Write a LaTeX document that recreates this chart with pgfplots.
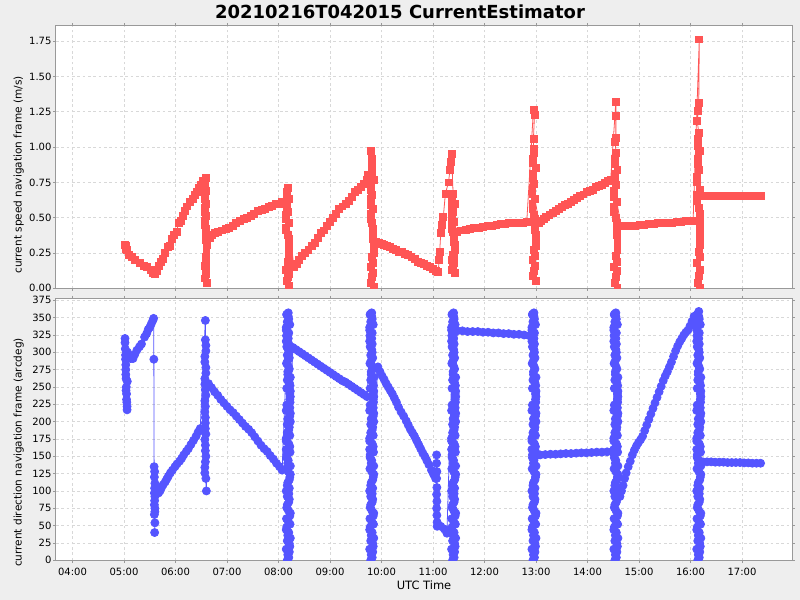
\documentclass[border=0pt]{standalone}
\usepackage{fontspec}
\setmainfont{DejaVu Sans}
\usepackage{pgfplots}
\pgfplotsset{compat=1.18}
\definecolor{bgc}{HTML}{EEEEEE}
\definecolor{sred}{HTML}{FF5555}
\definecolor{sblue}{HTML}{5555FF}
\definecolor{gridc}{HTML}{D8D8D8}
\definecolor{framec}{HTML}{999999}
\pgfplotsset{
  panel/.style={
    scale only axis, width=552pt,
    xmin=3.68, xmax=17.97,
    axis background/.style={fill=white},
    xmajorgrids, ymajorgrids,
    major grid style={gridc, dash pattern=on 2pt off 2pt, line width=0.5pt},
    axis line style={framec, line width=0.75pt},
    tick style={framec, line width=0.5pt},
    tick align=outside, major tick length=2pt,
    xtick={4,5,...,17},
    tick label style={font=\fontsize{7.5}{9}\selectfont},
    every axis x label/.style={at={(axis description cs:0.5,0)}, yshift=-18.5pt, anchor=center, font=\fontsize{8.6}{10}\selectfont},
    clip marker paths=true,
    /pgf/number format/assume math mode=true,
    yticklabel style={anchor=east, inner sep=0pt, xshift=-1.2pt},
    xticklabel style={anchor=north, inner sep=0pt, yshift=-3.5pt},
    scaled y ticks=false,
  },
  redser/.style={sred, line width=0.6pt, mark=square*, mark size=2.6pt, mark options={solid, fill=sred, draw=none}},
  blueser/.style={sblue, line width=0.6pt, mark=*, mark size=3pt, mark options={solid, fill=sblue, draw=none}},
}
\begin{document}
\begin{tikzpicture}
\fill[bgc] (0,0) rectangle (600pt,450pt);
\useasboundingbox (0,0) rectangle (600pt,450pt);
\begin{axis}[panel, at={(42pt,233.8pt)}, anchor=south west, height=196.7pt,
  ymin=0, ymax=1.858, ytick={0,0.25,0.5,0.75,1,1.25,1.5,1.75},
  yticklabel style={/pgf/number format/fixed, /pgf/number format/fixed zerofill, /pgf/number format/precision=2},
  every axis y label/.style={at={(axis description cs:0,0.432)}, xshift=-28pt, rotate=90, anchor=center, font=\fontsize{7.9}{10}\selectfont},
  xticklabels={}, ylabel={current speed navigation frame (m/s)}]
\addplot[redser] coordinates {
(5.02,0.31)(5.03,0.28)(5.04,0.30)(5.06,0.27)(5.10,0.235)(5.15,0.22)(5.22,0.20)(5.30,0.18)(5.38,0.16)(5.45,0.15)(5.52,0.13)(5.57,0.11)
(5.60,0.10)(5.64,0.12)(5.68,0.16)(5.72,0.19)(5.76,0.21)(5.80,0.25)(5.85,0.29)(5.89,0.30)(5.93,0.35)(5.97,0.38)(6.02,0.40)(6.06,0.46)(6.10,0.48)(6.15,0.51)(6.19,0.55)(6.23,0.58)(6.28,0.61)(6.33,0.63)(6.38,0.66)(6.42,0.68)(6.46,0.71)(6.50,0.73)(6.53,0.76)
(6.585,0.78)(6.600,0.28)(6.575,0.63)(6.590,0.13)(6.570,0.48)(6.595,0.37)(6.580,0.72)(6.605,0.04)(6.565,0.57)(6.585,0.22)(6.585,0.42)(6.600,0.69)(6.575,0.07)(6.590,0.34)(6.570,0.54)(6.595,0.19)(6.580,0.75)(6.605,0.31)(6.565,0.45)(6.585,0.10)(6.585,0.60)(6.600,0.25)(6.575,0.66)(6.590,0.40)(6.570,0.16)(6.595,0.51)
(6.67,0.36)(6.70,0.38)(6.76,0.39)(6.83,0.40)(6.90,0.41)(6.97,0.42)(7.04,0.43)(7.11,0.445)(7.18,0.46)(7.25,0.475)(7.32,0.49)(7.39,0.50)(7.46,0.515)(7.53,0.53)(7.60,0.545)(7.67,0.555)(7.74,0.565)(7.81,0.575)(7.88,0.585)(7.95,0.595)(8.01,0.60)(8.06,0.61)
(8.18,0.71)(8.21,0.24)(8.155,0.57)(8.195,0.10)(8.15,0.43)(8.20,0.32)(8.165,0.65)(8.21,0.02)(8.15,0.52)(8.18,0.19)(8.18,0.38)(8.21,0.63)(8.155,0.05)(8.195,0.30)(8.15,0.49)(8.20,0.16)(8.165,0.68)(8.21,0.27)(8.15,0.41)(8.18,0.08)(8.18,0.54)(8.21,0.21)(8.155,0.60)(8.195,0.35)(8.15,0.13)(8.20,0.46)
(8.30,0.15)(8.35,0.17)(8.40,0.20)(8.46,0.23)(8.52,0.25)(8.58,0.27)(8.64,0.30)(8.70,0.32)(8.76,0.36)(8.82,0.39)(8.88,0.41)(8.94,0.44)(9.00,0.47)(9.06,0.50)(9.12,0.53)(9.18,0.56)(9.24,0.58)(9.30,0.60)(9.36,0.62)(9.42,0.65)(9.48,0.68)(9.54,0.70)(9.60,0.72)(9.66,0.74)(9.71,0.77)(9.74,0.80)
(9.80,0.975)(9.81,0.92)
(9.82,0.87)(9.85,0.29)(9.795,0.70)(9.835,0.11)(9.79,0.53)(9.84,0.39)(9.805,0.80)(9.85,0.01)(9.79,0.63)(9.82,0.22)(9.82,0.46)(9.85,0.77)(9.795,0.04)(9.835,0.35)(9.79,0.59)(9.84,0.18)(9.805,0.84)(9.85,0.32)(9.79,0.49)(9.82,0.08)(9.82,0.66)(9.85,0.25)(9.795,0.73)(9.835,0.42)(9.79,0.15)(9.84,0.56)
(9.90,0.33)(9.95,0.32)(10.00,0.315)(10.05,0.31)(10.10,0.30)(10.16,0.29)(10.22,0.28)(10.28,0.27)(10.34,0.26)(10.40,0.255)(10.46,0.245)(10.52,0.235)(10.58,0.22)(10.64,0.205)(10.70,0.19)(10.76,0.18)(10.82,0.17)(10.88,0.16)(10.94,0.15)(11.00,0.135)(11.05,0.125)(11.10,0.115)
(11.12,0.20)(11.13,0.26)(11.15,0.39)(11.17,0.45)(11.20,0.505)(11.24,0.67)(11.30,0.75)(11.33,0.84)(11.35,0.895)(11.36,0.955)
(11.39,0.67)(11.42,0.29)(11.365,0.56)(11.405,0.18)(11.36,0.45)(11.41,0.36)(11.375,0.62)(11.42,0.11)(11.36,0.51)(11.39,0.24)(11.39,0.40)(11.42,0.60)(11.365,0.13)(11.405,0.33)(11.36,0.49)(11.41,0.22)(11.375,0.65)(11.42,0.31)(11.36,0.42)(11.39,0.16)(11.39,0.54)(11.42,0.27)(11.365,0.58)(11.405,0.38)(11.36,0.20)(11.41,0.47)
(11.47,0.40)(11.55,0.41)(11.63,0.415)(11.72,0.42)(11.80,0.425)(11.89,0.43)(11.97,0.435)(12.06,0.44)(12.14,0.445)(12.23,0.45)(12.31,0.455)(12.40,0.455)(12.48,0.46)(12.57,0.46)(12.65,0.465)(12.74,0.465)(12.82,0.47)
(12.95,1.266)(12.97,1.226)(12.95,1.061)(12.95,0.99)
(12.96,0.96)(12.99,0.34)(12.935,0.78)(12.975,0.16)(12.93,0.60)(12.98,0.45)(12.945,0.89)(12.99,0.05)(12.93,0.71)(12.96,0.27)(12.96,0.52)(12.99,0.85)(12.935,0.09)(12.975,0.41)(12.93,0.67)(12.98,0.23)(12.945,0.92)(12.99,0.38)(12.93,0.56)(12.96,0.12)(12.96,0.74)(12.99,0.30)(12.935,0.81)(12.975,0.49)(12.93,0.20)(12.98,0.63)
(13.06,0.46)(13.10,0.48)(13.15,0.49)(13.20,0.505)(13.26,0.52)(13.32,0.535)(13.38,0.55)(13.44,0.56)(13.50,0.575)(13.56,0.59)(13.62,0.60)(13.68,0.615)(13.74,0.625)(13.80,0.64)(13.86,0.655)(13.92,0.665)(13.98,0.68)(14.04,0.69)(14.10,0.70)(14.16,0.715)(14.22,0.725)(14.28,0.735)(14.34,0.745)(14.40,0.76)(14.45,0.77)
(14.55,1.323)(14.55,1.219)(14.55,1.065)(14.54,1.04)
(14.55,0.96)(14.58,0.31)(14.525,0.77)(14.565,0.12)(14.52,0.58)(14.57,0.42)(14.535,0.88)(14.58,0.00)(14.52,0.69)(14.55,0.23)(14.55,0.50)(14.58,0.84)(14.525,0.04)(14.565,0.38)(14.52,0.65)(14.57,0.19)(14.535,0.92)(14.58,0.35)(14.52,0.54)(14.55,0.08)(14.55,0.73)(14.58,0.27)(14.525,0.81)(14.565,0.46)(14.52,0.15)(14.57,0.61)
(14.65,0.44)(14.74,0.44)(14.83,0.445)(14.92,0.445)(15.01,0.45)(15.10,0.45)(15.19,0.455)(15.28,0.455)(15.37,0.46)(15.46,0.46)(15.55,0.465)(15.64,0.465)(15.73,0.47)(15.82,0.47)(15.91,0.475)(16.00,0.475)(16.05,0.48)
(16.17,1.763)(16.16,1.313)(16.15,1.254)(16.13,1.184)
(16.16,1.10)(16.19,0.35)(16.135,0.88)(16.175,0.13)(16.13,0.66)(16.18,0.48)(16.145,1.01)(16.19,0.00)(16.13,0.79)(16.16,0.26)(16.16,0.57)(16.19,0.97)(16.135,0.04)(16.175,0.44)(16.13,0.75)(16.18,0.22)(16.145,1.06)(16.19,0.40)(16.13,0.62)(16.16,0.09)(16.16,0.84)(16.19,0.31)(16.135,0.92)(16.175,0.53)(16.13,0.18)(16.18,0.70)
(16.24,0.652)(16.32,0.652)(16.40,0.652)(16.48,0.652)(16.56,0.652)(16.64,0.652)(16.72,0.652)(16.80,0.652)(16.88,0.652)(16.96,0.652)(17.04,0.652)(17.12,0.652)(17.20,0.652)(17.28,0.652)(17.36,0.652)
};
\end{axis}
\begin{axis}[panel, at={(42pt,29.8pt)}, anchor=south west, height=196.5pt,
  ymin=0, ymax=378, ytick={0,25,50,75,100,125,150,175,200,225,250,275,300,325,350,375},
  every axis y label/.style={at={(axis description cs:0,0.411)}, xshift=-28pt, rotate=90, anchor=center, font=\fontsize{7.9}{10}\selectfont},
  xticklabels={04:00,05:00,06:00,07:00,08:00,09:00,10:00,11:00,12:00,13:00,14:00,15:00,16:00,17:00},
  xlabel={UTC Time}, ylabel={current direction navigation frame (arcdeg)}]
\addplot[blueser] coordinates {
(5.02,320)(5.025,305)(5.02,314)(5.03,296)(5.03,290)(5.035,282)(5.035,275)(5.035,268)(5.04,262)(5.045,250)(5.04,245)(5.05,240)(5.05,232)(5.055,228)(5.06,222)(5.06,217)(5.065,258)(5.07,300)(5.09,292)(5.13,291)(5.175,291)(5.21,297)(5.25,303)(5.30,308)(5.34,312)(5.40,322)(5.44,327)(5.47,333)(5.50,336)(5.53,341)(5.56,346)(5.575,349)
(5.58,290)(5.585,135)(5.59,120)(5.60,111)(5.595,128)(5.59,97)(5.60,92)(5.595,104)(5.59,80)(5.60,70)(5.595,86)(5.59,66)(5.60,54)(5.595,40)(5.60,75)(5.62,100)
(5.67,97)(5.70,100)(5.73,105)(5.76,109)(5.80,113)(5.83,117)(5.86,121)(5.90,126)(5.94,130)(5.99,135)(6.03,139)(6.08,143)(6.12,147)(6.16,152)(6.21,157)(6.25,161)(6.30,167)(6.35,173)(6.40,179)(6.44,185)(6.48,190)
(6.58,346)(6.58,318)(6.57,262)(6.59,302)(6.58,206)(6.57,286)(6.59,150)(6.58,246)(6.57,174)(6.59,310)(6.58,222)(6.57,126)(6.59,270)(6.58,190)(6.57,294)(6.59,238)(6.58,142)(6.57,214)(6.59,278)(6.58,166)(6.57,254)(6.59,118)(6.58,198)(6.57,230)(6.59,182)(6.58,158)(6.57,134)(6.60,100)
(6.64,255)(6.70,249)(6.76,243)(6.82,238)(6.88,232)(6.94,227)(7.00,222)(7.06,217)(7.12,213)(7.18,208)(7.24,203)(7.30,198)(7.36,193)(7.42,189)(7.48,184)(7.54,178)(7.60,172)(7.66,166)(7.72,161)(7.78,157)(7.84,151)(7.90,146)(7.96,140)(8.02,135)(8.07,130)
(8.19,357)(8.22,120)(8.17,296)(8.20,40)(8.15,336)(8.21,192)(8.18,8)(8.23,264)(8.16,152)(8.19,320)
(8.19,72)(8.22,232)(8.17,344)(8.20,96)(8.15,176)(8.21,24)(8.18,288)(8.23,136)(8.16,248)(8.19,56)
(8.19,352)(8.22,208)(8.17,0)(8.20,312)(8.15,160)(8.21,88)(8.18,272)(8.23,32)(8.16,224)(8.19,128)
(8.19,304)(8.22,64)(8.17,184)(8.20,328)(8.15,16)(8.21,256)(8.18,112)(8.23,200)(8.16,48)(8.19,280)
(8.19,144)(8.22,240)(8.17,80)(8.20,168)(8.15,216)(8.21,104)
(8.16,355)(8.23,124)(8.20,300)(8.15,44)(8.22,340)(8.17,196)(8.21,12)(8.18,268)(8.225,156)(8.155,324)
(8.16,76)(8.23,236)(8.20,348)(8.15,100)(8.22,180)(8.17,28)(8.21,292)(8.18,140)(8.225,252)(8.155,60)
(8.16,354)(8.23,212)(8.20,4)(8.15,316)(8.22,164)(8.17,92)(8.21,276)(8.18,36)(8.225,228)(8.155,132)
(8.16,308)(8.23,68)(8.20,188)(8.15,332)(8.22,20)(8.17,260)(8.21,116)(8.18,204)(8.225,52)(8.155,284)
(8.16,148)(8.23,244)(8.20,84)(8.15,172)(8.22,220)(8.17,108)
(8.28,307)(8.34,304)(8.40,301)(8.46,298)(8.52,295)(8.58,292)(8.64,289)(8.70,286)(8.76,283)(8.82,280)(8.88,277)(8.94,274)(9.00,271)(9.06,268)(9.12,265)(9.18,262)(9.24,259)(9.30,257)(9.36,254)(9.42,251)(9.48,248)(9.54,245)(9.60,242)(9.66,239)(9.72,236)
(9.81,357)(9.84,120)(9.79,296)(9.82,40)(9.77,336)(9.83,192)(9.80,8)(9.85,264)(9.78,152)(9.81,320)
(9.81,72)(9.84,232)(9.79,344)(9.82,96)(9.77,176)(9.83,24)(9.80,288)(9.85,136)(9.78,248)(9.81,56)
(9.81,352)(9.84,208)(9.79,0)(9.82,312)(9.77,160)(9.83,88)(9.80,272)(9.85,32)(9.78,224)(9.81,128)
(9.81,304)(9.84,64)(9.79,184)(9.82,328)(9.77,16)(9.83,256)(9.80,112)(9.85,200)(9.78,48)(9.81,280)
(9.81,144)(9.84,240)(9.79,80)(9.82,168)(9.77,216)(9.83,104)
(9.78,355)(9.85,124)(9.82,300)(9.77,44)(9.84,340)(9.79,196)(9.83,12)(9.80,268)(9.845,156)(9.775,324)
(9.78,76)(9.85,236)(9.82,348)(9.77,100)(9.84,180)(9.79,28)(9.83,292)(9.80,140)(9.845,252)(9.775,60)
(9.78,354)(9.85,212)(9.82,4)(9.77,316)(9.84,164)(9.79,92)(9.83,276)(9.80,36)(9.845,228)(9.775,132)
(9.78,308)(9.85,68)(9.82,188)(9.77,332)(9.84,20)(9.79,260)(9.83,116)(9.80,204)(9.845,52)(9.775,284)
(9.78,148)(9.85,244)(9.82,84)(9.77,172)(9.84,220)(9.79,108)
(9.93,279)(9.97,272)(10.01,266)(10.05,261)(10.09,255)(10.13,250)(10.17,245)(10.21,240)(10.25,234)(10.29,228)(10.33,221)(10.38,214)(10.43,208)(10.48,201)(10.52,195)(10.56,189)(10.60,184)(10.64,179)(10.68,173)(10.72,167)(10.76,161)(10.80,155)(10.84,150)(10.88,144)(10.92,138)(10.97,130)(11.01,124)(11.05,118)
(11.07,152)(11.07,140)(11.075,128)(11.07,118)(11.075,105)(11.07,95)(11.075,85)(11.07,75)(11.075,65)(11.08,55)(11.08,49)(11.15,49)(11.22,45)(11.27,39)
(11.40,357)(11.43,120)(11.38,296)(11.41,40)(11.36,336)(11.42,192)(11.39,8)(11.44,264)(11.37,152)(11.40,320)
(11.40,72)(11.43,232)(11.38,344)(11.41,96)(11.36,176)(11.42,24)(11.39,288)(11.44,136)(11.37,248)(11.40,56)
(11.40,352)(11.43,208)(11.38,0)(11.41,312)(11.36,160)(11.42,88)(11.39,272)(11.44,32)(11.37,224)(11.40,128)
(11.40,304)(11.43,64)(11.38,184)(11.41,328)(11.36,16)(11.42,256)(11.39,112)(11.44,200)(11.37,48)(11.40,280)
(11.40,144)(11.43,240)(11.38,80)(11.41,168)(11.36,216)(11.42,104)
(11.37,355)(11.44,124)(11.41,300)(11.36,44)(11.43,340)(11.38,196)(11.42,12)(11.39,268)(11.435,156)(11.365,324)
(11.37,76)(11.44,236)(11.41,348)(11.36,100)(11.43,180)(11.38,28)(11.42,292)(11.39,140)(11.435,252)(11.365,60)
(11.37,354)(11.44,212)(11.41,4)(11.36,316)(11.43,164)(11.38,92)(11.42,276)(11.39,36)(11.435,228)(11.365,132)
(11.37,308)(11.44,68)(11.41,188)(11.36,332)(11.43,20)(11.38,260)(11.42,116)(11.39,204)(11.435,52)(11.365,284)
(11.37,148)(11.44,244)(11.41,84)(11.36,172)(11.43,220)(11.38,108)
(11.47,331)(11.57,331)(11.67,330)(11.77,330)(11.87,330)(11.97,329)(12.07,329)(12.17,328)(12.27,328)(12.37,327)(12.47,327)(12.57,326)(12.67,326)(12.77,325)(12.87,324)
(12.96,357)(12.99,120)(12.94,296)(12.97,40)(12.92,336)(12.98,192)(12.95,8)(13.00,264)(12.93,152)(12.96,320)
(12.96,72)(12.99,232)(12.94,344)(12.97,96)(12.92,176)(12.98,24)(12.95,288)(13.00,136)(12.93,248)(12.96,56)
(12.96,352)(12.99,208)(12.94,0)(12.97,312)(12.92,160)(12.98,88)(12.95,272)(13.00,32)(12.93,224)(12.96,128)
(12.96,304)(12.99,64)(12.94,184)(12.97,328)(12.92,16)(12.98,256)(12.95,112)(13.00,200)(12.93,48)(12.96,280)
(12.96,144)(12.99,240)(12.94,80)(12.97,168)(12.92,216)(12.98,104)
(12.93,355)(13.00,124)(12.97,300)(12.92,44)(12.99,340)(12.94,196)(12.98,12)(12.95,268)(12.995,156)(12.925,324)
(12.93,76)(13.00,236)(12.97,348)(12.92,100)(12.99,180)(12.94,28)(12.98,292)(12.95,140)(12.995,252)(12.925,60)
(12.93,354)(13.00,212)(12.97,4)(12.92,316)(12.99,164)(12.94,92)(12.98,276)(12.95,36)(12.995,228)(12.925,132)
(12.93,308)(13.00,68)(12.97,188)(12.92,332)(12.99,20)(12.94,260)(12.98,116)(12.95,204)(12.995,52)(12.925,284)
(12.93,148)(13.00,244)(12.97,84)(12.92,172)(12.99,220)(12.94,108)
(13.04,152)(13.08,152)(13.18,152.5)(13.28,153)(13.38,153)(13.48,153.5)(13.58,154)(13.68,154)(13.78,154.5)(13.88,155)(13.98,155)(14.08,155.5)(14.18,156)(14.28,156)(14.38,156.5)(14.48,156.6)
(14.55,357)(14.58,120)(14.53,296)(14.56,40)(14.51,336)(14.57,192)(14.54,8)(14.59,264)(14.52,152)(14.55,320)
(14.55,72)(14.58,232)(14.53,344)(14.56,96)(14.51,176)(14.57,24)(14.54,288)(14.59,136)(14.52,248)(14.55,56)
(14.55,352)(14.58,208)(14.53,0)(14.56,312)(14.51,160)(14.57,88)(14.54,272)(14.59,32)(14.52,224)(14.55,128)
(14.55,304)(14.58,64)(14.53,184)(14.56,328)(14.51,16)(14.57,256)(14.54,112)(14.59,200)(14.52,48)(14.55,280)
(14.55,144)(14.58,240)(14.53,80)(14.56,168)(14.51,216)(14.57,104)
(14.52,355)(14.59,124)(14.56,300)(14.51,44)(14.58,340)(14.53,196)(14.57,12)(14.54,268)(14.585,156)(14.515,324)
(14.52,76)(14.59,236)(14.56,348)(14.51,100)(14.58,180)(14.53,28)(14.57,292)(14.54,140)(14.585,252)(14.515,60)
(14.52,354)(14.59,212)(14.56,4)(14.51,316)(14.58,164)(14.53,92)(14.57,276)(14.54,36)(14.585,228)(14.515,132)
(14.52,308)(14.59,68)(14.56,188)(14.51,332)(14.58,20)(14.53,260)(14.57,116)(14.54,204)(14.585,52)(14.515,284)
(14.52,148)(14.59,244)(14.56,84)(14.51,172)(14.58,220)(14.53,108)
(14.63,92)(14.66,100)(14.69,108)(14.72,118)(14.75,126)(14.79,135)(14.83,143)(14.87,152)(14.91,159)(14.95,165)(14.99,170)(15.03,174)(15.07,179)(15.11,187)(15.15,195)(15.19,203)(15.23,211)(15.27,219)(15.31,227)(15.35,235)(15.39,243)(15.43,251)(15.47,259)(15.51,266)(15.55,272)(15.59,279)(15.63,286)(15.67,294)(15.71,302)(15.75,309)(15.79,315)(15.83,320)(15.87,325)(15.91,329)(15.95,332)(15.99,338)(16.03,345)(16.07,352)
(16.16,359)(16.19,120)(16.14,296)(16.17,40)(16.12,336)(16.18,192)(16.15,8)(16.20,264)(16.13,152)(16.16,320)
(16.16,72)(16.19,232)(16.14,344)(16.17,96)(16.12,176)(16.18,24)(16.15,288)(16.20,136)(16.13,248)(16.16,56)
(16.16,352)(16.19,208)(16.14,0)(16.17,312)(16.12,160)(16.18,88)(16.15,272)(16.20,32)(16.13,224)(16.16,128)
(16.16,304)(16.19,64)(16.14,184)(16.17,328)(16.12,16)(16.18,256)(16.15,112)(16.20,200)(16.13,48)(16.16,280)
(16.16,144)(16.19,240)(16.14,80)(16.17,168)(16.12,216)(16.18,104)
(16.13,355)(16.20,124)(16.17,300)(16.12,44)(16.19,340)(16.14,196)(16.18,12)(16.15,268)(16.195,156)(16.125,324)
(16.13,76)(16.20,236)(16.17,348)(16.12,100)(16.19,180)(16.14,28)(16.18,292)(16.15,140)(16.195,252)(16.125,60)
(16.13,354)(16.20,212)(16.17,4)(16.12,316)(16.19,164)(16.14,92)(16.18,276)(16.15,36)(16.195,228)(16.125,132)
(16.13,308)(16.20,68)(16.17,188)(16.12,332)(16.19,20)(16.14,260)(16.18,116)(16.15,204)(16.195,52)(16.125,284)
(16.13,148)(16.20,244)(16.17,84)(16.12,172)(16.19,220)(16.14,108)
(16.24,142)(16.32,142)(16.40,142)(16.48,141.5)(16.56,141.5)(16.64,141.5)(16.72,141)(16.80,141)(16.88,141)(16.96,141)(17.04,140.5)(17.12,140.5)(17.20,140)(17.28,140)(17.36,140)
};
\end{axis}
\node[anchor=base, font=\fontsize{13.5}{16}\selectfont\bfseries] at (300pt,436.3pt) {20210216T042015 CurrentEstimator};
\end{tikzpicture}
\end{document}
